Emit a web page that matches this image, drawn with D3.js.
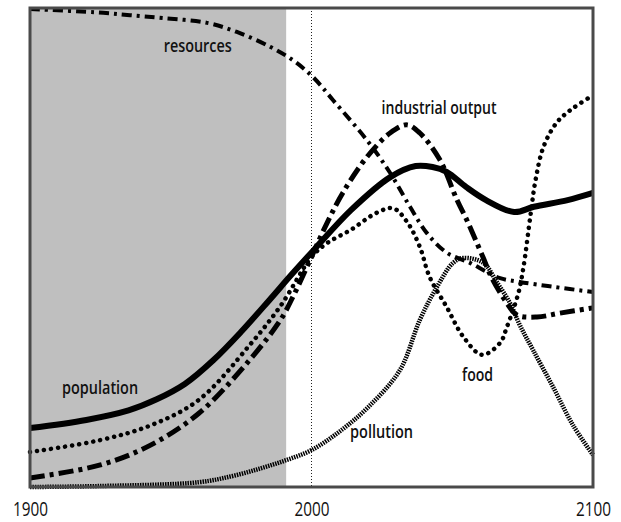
<!DOCTYPE html>
<html>
<head>
<meta charset="utf-8">
<script src="https://cdn.jsdelivr.net/npm/d3@7"></script>
<style>
  html, body { margin: 0; padding: 0; background: #fff; }
  svg { display: block; }
  text { font-family: "Open Sans", "Noto Sans", sans-serif; fill: #111; }
</style>
</head>
<body>
<svg id="chart" width="621" height="522"></svg>
<script>
// ---- data (year, relative level 0-100) ----
const population = [[1900,12.3],[1920,14.0],[1935,16.0],[1945,18.3],[1955,21.5],[1965,26.4],[1975,32.4],[1985,39.0],[1993,44.4],[2001,49.6],[2014,57.8],[2028,64.7],[2037,67.0],[2043,66.8],[2048,65.8],[2055,62.6],[2062,59.9],[2072,57.4],[2079,58.5],[2091,59.9],[2100,61.4]];
const food = [[1900,7.3],[1925,9.8],[1943,12.9],[1960,18.2],[1978,29.6],[1989,37.8],[2000,48.0],[2005.5,50.9],[2014,53.7],[2023,57.2],[2029,58.2],[2034,55.3],[2038.5,50.1],[2042,43.8],[2048,37.6],[2054,31.3],[2060.6,27.6],[2067,30.1],[2069.4,33.4],[2073.5,40.5],[2075.3,45.9],[2077.8,56.8],[2079.6,64.1],[2082.4,71.0],[2087,76.0],[2092,78.7],[2100,81.8]];
const industrialOutput = [[1900,1.9],[1925,4.6],[1943,8.8],[1960,15.4],[1978,26.5],[1989,34.9],[1993.4,39.7],[1999.5,47.4],[2005.5,55.1],[2011.2,61.5],[2019.7,68.9],[2027.9,73.9],[2033.9,75.6],[2038.5,73.9],[2045.6,68.3],[2051.7,59.9],[2055.2,55.7],[2060.9,48.0],[2064.1,43.6],[2069.4,38.4],[2073,35.9],[2080.1,35.5],[2088.3,36.3],[2100,37.4]];
const resources = [[1900,99.8],[1926,99.0],[1935.5,98.5],[1947.2,97.9],[1962.9,96.9],[1973.5,95.0],[1985.3,91.9],[1993.4,89.1],[2000.5,85.6],[2007.6,80.8],[2019.7,72.4],[2027.9,65.6],[2035,58.5],[2041,53.0],[2048.1,48.9],[2056.3,46.8],[2062.3,44.9],[2067,43.6],[2074,42.8],[2085.8,41.8],[2100,40.7]];
const pollution = [[1900,0],[1925,0.2],[1960,1.0],[1972,2.3],[1982,3.9],[1991,5.6],[2000,7.7],[2010,11.6],[2020,16.6],[2031.4,24.4],[2038.5,34.9],[2044.6,41.8],[2050.3,46.8],[2053.8,47.8],[2061,46.8],[2066,42.6],[2070.5,38.4],[2074,33.8],[2078.7,28.6],[2085.8,20.9],[2092.9,12.9],[2100,6.7]];
const tickYears = [1900, 2000, 2100];
const historyEnd = 1991;
const presentYear = 2000;
const labels = [
  {text: "resources", year: 1947.5, value: 90.8, w: 68},
  {text: "industrial output", year: 2024.9, value: 77.9, w: 115},
  {text: "population", year: 1911.4, value: 19.4, w: 76},
  {text: "food", year: 2053.5, value: 22.1, w: 31},
  {text: "pollution", year: 2013.7, value: 10.2, w: 63}
];

// ---- drawing ----
const svg = d3.select("#chart");
const x = d3.scaleLinear().domain([1900, 2100]).range([30, 593]);
const y = d3.scaleLinear().domain([0, 100]).range([487, 8]);

// shaded history region
svg.append("rect")
  .attr("x", x(1900)).attr("y", y(100))
  .attr("width", x(historyEnd) - x(1900))
  .attr("height", y(0) - y(100))
  .attr("fill", "#bfbfbf");

// present-day dotted line
svg.append("line")
  .attr("x1", x(presentYear)).attr("x2", x(presentYear))
  .attr("y1", y(100)).attr("y2", y(0))
  .attr("stroke", "#222").attr("stroke-width", 1)
  .attr("stroke-dasharray", "1 2");

const line = d3.line()
  .x(d => x(d[0])).y(d => y(d[1]))
  .curve(d3.curveCatmullRom.alpha(0.5));

const series = [
  {data: pollution, width: 4.5, dash: "1.5 1", cap: "butt"},
  {data: resources, width: 4, dash: "10 5 3 5", cap: "butt"},
  {data: industrialOutput, width: 5, dash: "15 5 4 5", cap: "butt"},
  {data: food, width: 4.5, dash: "0.1 7", cap: "round"},
  {data: population, width: 6, dash: null, cap: "butt"}
];

series.forEach(s => {
  svg.append("path")
    .datum(s.data)
    .attr("d", line)
    .attr("fill", "none")
    .attr("stroke", "#000")
    .attr("stroke-width", s.width)
    .attr("stroke-linecap", s.cap)
    .attr("stroke-dasharray", s.dash);
});

// frame
svg.append("rect")
  .attr("x", x(1900)).attr("y", y(100))
  .attr("width", x(2100) - x(1900))
  .attr("height", y(0) - y(100))
  .attr("fill", "none")
  .attr("stroke", "#4a4a4a")
  .attr("stroke-width", 3);

// x axis
const axis = d3.axisBottom(x).tickValues(tickYears).tickSize(0).tickFormat(d3.format("d"));
const gx = svg.append("g").attr("transform", `translate(0,${y(0)})`).call(axis);
gx.select(".domain").remove();
gx.selectAll("text")
  .attr("y", 29).attr("dy", 0)
  .attr("font-size", 20)
  .attr("font-family", "Open Sans, sans-serif")
  .attr("fill", "#111")
  .attr("textLength", 35)
  .attr("lengthAdjust", "spacingAndGlyphs");

// series labels
svg.selectAll("text.lbl")
  .data(labels)
  .enter().append("text")
  .attr("class", "lbl")
  .attr("x", d => x(d.year))
  .attr("y", d => y(d.value))
  .attr("font-size", 18)
  .attr("font-weight", 600)
  .attr("textLength", d => d.w)
  .attr("lengthAdjust", "spacingAndGlyphs")
  .text(d => d.text);
</script>
</body>
</html>
